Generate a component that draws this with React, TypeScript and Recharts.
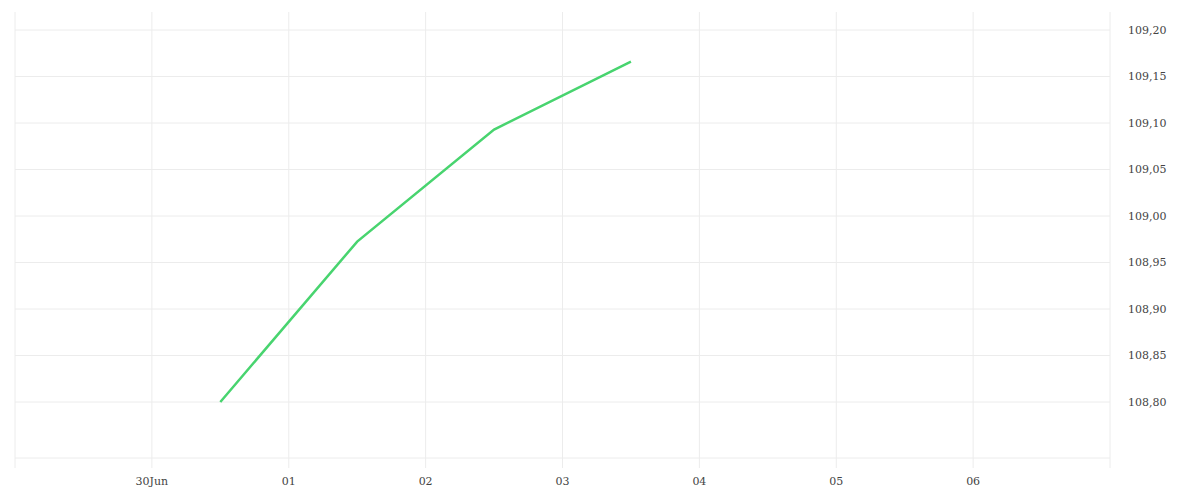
import { LineChart, Line, XAxis, YAxis, CartesianGrid } from "recharts"

// x positions in days (0 = 30 Jun), points sit at midday
const dayPositions = [0.5, 1.5, 2.5, 3.5]
const prices = [108.8, 108.9725, 109.093, 109.166]

const xTicks = [-1, 0, 1, 2, 3, 4, 5, 6, 7]
const xTickLabels = ["", "30Jun", "01", "02", "03", "04", "05", "06", ""]
const yTicks = [108.8, 108.85, 108.9, 108.95, 109.0, 109.05, 109.1, 109.15, 109.2]

const chartData = dayPositions.map((d, i) => ({ day: d, price: prices[i] }))

const tickFont = { fill: "#444", fontSize: 11, fontFamily: "'DejaVu Serif', serif" }

export default function App() {
  return (
    <LineChart
      width={1184}
      height={484}
      data={chartData}
      margin={{ top: 4, right: 0, bottom: 4, left: 7 }}
    >
      <CartesianGrid stroke="#ececec" horizontalValues={yTicks} verticalValues={xTicks} />
      <XAxis
        dataKey="day"
        type="number"
        domain={[-1, 7]}
        ticks={xTicks}
        tickFormatter={(v: number) => xTickLabels[xTicks.indexOf(v)] ?? ""}
        height={30}
        stroke="#ececec"
        tickSize={10}
        tickMargin={9}
        tick={tickFont}
        interval={0}
      />
      <YAxis
        orientation="right"
        type="number"
        domain={[108.7398, 109.2194]}
        ticks={yTicks}
        width={82}
        axisLine={false}
        tickLine={false}
        tickSize={0}
        tickMargin={18}
        tick={{ ...tickFont, textAnchor: "start" }}
        tickFormatter={(v: number) => v.toFixed(2).replace(".", ",")}
        allowDataOverflow
      />
      <Line
        type="linear"
        dataKey="price"
        stroke="#48d46f"
        strokeWidth={2.5}
        dot={false}
        isAnimationActive={false}
      />
    </LineChart>
  )
}
